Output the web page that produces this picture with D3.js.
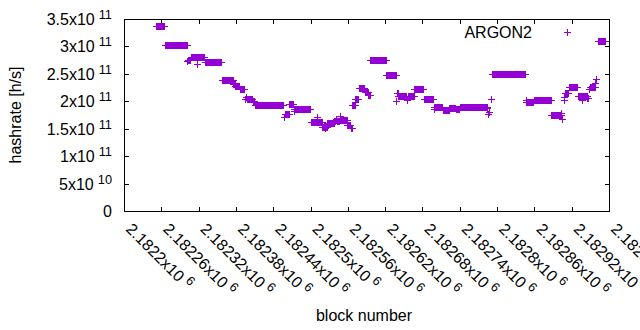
<!DOCTYPE html>
<html>
<head>
<meta charset="utf-8">
<script src="https://cdn.jsdelivr.net/npm/d3@7"></script>
<style>
  body { margin: 0; background: #fff; }
  text { font-family: "Liberation Sans", Arial, sans-serif; fill: #000; }
</style>
</head>
<body>
<div id="plot"></div>
<script>
// Runs of blocks that share the same hashrate (one point per block)
var runFrom = [2182252,2182266,2182302,2182303,2182307,2182318,2182319,2182330,2182357,2182376,2182379,2182386,
  2182394,2182396,2182398,2182407,2182410,2182457,2182459,2182466,2182473,2182474,2182500,2182510,2182511,2182519,
  2182523,2182524,2182527,2182538,2182541,2182542,2182547,2182548,2182559,2182565,2182567,2182572,2182578,2182587,
  2182593,2182596,2182622,2182638,2182639,2182641,2182655,2182656,2182667,2182682,2182698,2182699,2182713,2182723,
  2182734,2182740,2182784,2182785,2182787,2182790,2182792,2182846,2182847,2182859,2182887,2182903,2182904,2182907,
  2182908,2182909,2182915,2182930,2182937,2182938,2182945,2182948,2182949,2182958,2182959,2182963];
var runTo = [2182265,2182301,2182302,2182306,2182317,2182318,2182329,2182356,2182375,2182378,2182385,2182393,
  2182395,2182397,2182406,2182409,2182456,2182458,2182465,2182472,2182473,2182499,2182509,2182510,2182518,2182522,
  2182523,2182526,2182537,2182540,2182541,2182546,2182547,2182558,2182564,2182566,2182571,2182577,2182586,2182592,
  2182595,2182621,2182637,2182638,2182640,2182654,2182655,2182666,2182681,2182697,2182698,2182712,2182722,2182733,
  2182739,2182783,2182784,2182785,2182787,2182790,2182845,2182846,2182858,2182886,2182902,2182903,2182904,2182907,
  2182908,2182914,2182929,2182936,2182937,2182944,2182947,2182948,2182957,2182958,2182959,2182973];
var runRate = [3.37e11,3.02e11,2.73e11,2.76e11,2.815e11,2.68e11,2.80e11,2.71e11,2.38e11,2.31e11,2.27e11,2.215e11,
  2.04e11,2.07e11,2.035e11,2.0e11,1.93e11,1.72e11,1.76e11,1.945e11,1.83e11,1.855e11,1.62e11,1.71e11,1.615e11,1.53e11,
  1.505e11,1.535e11,1.597e11,1.64e11,1.67e11,1.635e11,1.73e11,1.65e11,1.57e11,1.51e11,1.93e11,2.045e11,2.235e11,2.17e11,
  2.12e11,2.75e11,2.475e11,2.0e11,2.15e11,2.09e11,2.02e11,2.09e11,2.215e11,2.05e11,1.86e11,1.895e11,1.84e11,1.88e11,
  1.86e11,1.89e11,1.87e11,1.77e11,1.81e11,2.04e11,2.49e11,2.02e11,1.99e11,2.02e11,1.755e11,1.79e11,1.67e11,2.02e11,
  2.07e11,2.15e11,2.255e11,2.09e11,2.03e11,2.09e11,2.065e11,2.23e11,2.255e11,2.33e11,2.4e11,3.09e11];

var xTicks = [2182200,2182260,2182320,2182380,2182440,2182500,2182560,2182620,2182680,2182740,2182800,2182860,2182920,2182980];
var xTickLabels = ["2.1822","2.18226","2.18232","2.18238","2.18244","2.1825","2.18256","2.18262","2.18268","2.18274","2.1828","2.18286","2.18292","2.18298"];
var yTicks = [0,5e10,1e11,1.5e11,2e11,2.5e11,3e11,3.5e11];
var yTickMant = ["0","5","1","1.5","2","2.5","3","3.5"];
var yTickExp = ["","10","11","11","11","11","11","11"];
var seriesName = "ARGON2";

var width = 640, height = 330,
    plot = {left: 124, right: 609, top: 19, bottom: 211},
    color = "#9400d3";

var svg = d3.select("#plot").append("svg")
    .attr("width", width)
    .attr("height", height);

var x = d3.scaleLinear().domain([2182200, 2182980]).range([plot.left, plot.right]);
var y = d3.scaleLinear().domain([0, 3.5e11]).range([plot.bottom, plot.top]);

// plus marker path centred on a pixel
function plus(cx, cy) {
  cx = Math.round(cx); cy = Math.round(cy);
  return "M" + (cx - 3) + "," + (cy + 0.5) + "H" + (cx + 4) +
         "M" + (cx + 0.5) + "," + (cy - 3) + "V" + (cy + 4);
}

// Frame and ticks
var frame = svg.append("g").attr("stroke", "#000").attr("fill", "none").attr("stroke-width", 1);
frame.append("rect")
  .attr("x", plot.left + 0.5).attr("y", plot.top + 0.5)
  .attr("width", plot.right - plot.left).attr("height", plot.bottom - plot.top);

yTicks.forEach(function(t) {
  var py = Math.round(y(t)) + 0.5;
  frame.append("path").attr("d", "M" + plot.left + "," + py + "h5M" + (plot.right + 1) + "," + py + "h-5");
});
xTicks.forEach(function(t) {
  var px = Math.round(x(t)) + 0.5;
  frame.append("path").attr("d", "M" + px + "," + (plot.bottom + 1) + "v-5M" + px + "," + plot.top + "v5");
});

// Y tick labels
yTicks.forEach(function(t, i) {
  var lab = svg.append("text")
    .attr("x", 112).attr("y", Math.round(y(t)) + 6)
    .attr("text-anchor", "end")
    .style("font-size", "16px");
  if (yTickExp[i] === "") {
    lab.text(yTickMant[i]);
  } else {
    lab.append("tspan").text(yTickMant[i] + "x10");
    lab.append("tspan").attr("dx", 4).attr("dy", -6).style("font-size", "12.8px").text(yTickExp[i]);
  }
});

// X tick labels, rotated
xTicks.forEach(function(t, i) {
  var px = x(t) + 1, py = 230;
  var lab = svg.append("text")
    .attr("transform", "translate(" + px + "," + py + ") rotate(45)")
    .style("font-size", "16px");
  lab.append("tspan").text(xTickLabels[i] + "x10");
  lab.append("tspan").attr("dx", 4).attr("dy", -6).style("font-size", "12.8px").text("6");
});

// Axis titles
svg.append("text")
  .attr("x", 364).attr("y", 321)
  .attr("text-anchor", "middle")
  .style("font-size", "16px")
  .text("block number");
svg.append("text")
  .attr("transform", "translate(21," + ((plot.top + plot.bottom) / 2) + ") rotate(-90)")
  .attr("text-anchor", "middle")
  .style("font-size", "16px")
  .text("hashrate [h/s]");

// Points: one plus per block in each run
var points = [];
runFrom.forEach(function(f, i) {
  d3.range(f, runTo[i] + 1).forEach(function(b) {
    points.push({block: b, rate: runRate[i]});
  });
});

svg.append("g")
  .attr("stroke", color).attr("fill", "none").attr("stroke-width", 1)
  .selectAll("path")
  .data(points).enter()
  .append("path")
  .attr("d", function(d) { return plus(x(d.block), y(d.rate)); });

// Legend
svg.append("text")
  .attr("x", 532).attr("y", 38)
  .attr("text-anchor", "end")
  .style("font-size", "16px")
  .text(seriesName);
svg.append("path")
  .attr("stroke", color).attr("fill", "none")
  .attr("d", plus(567, 32));
</script>
</body>
</html>
